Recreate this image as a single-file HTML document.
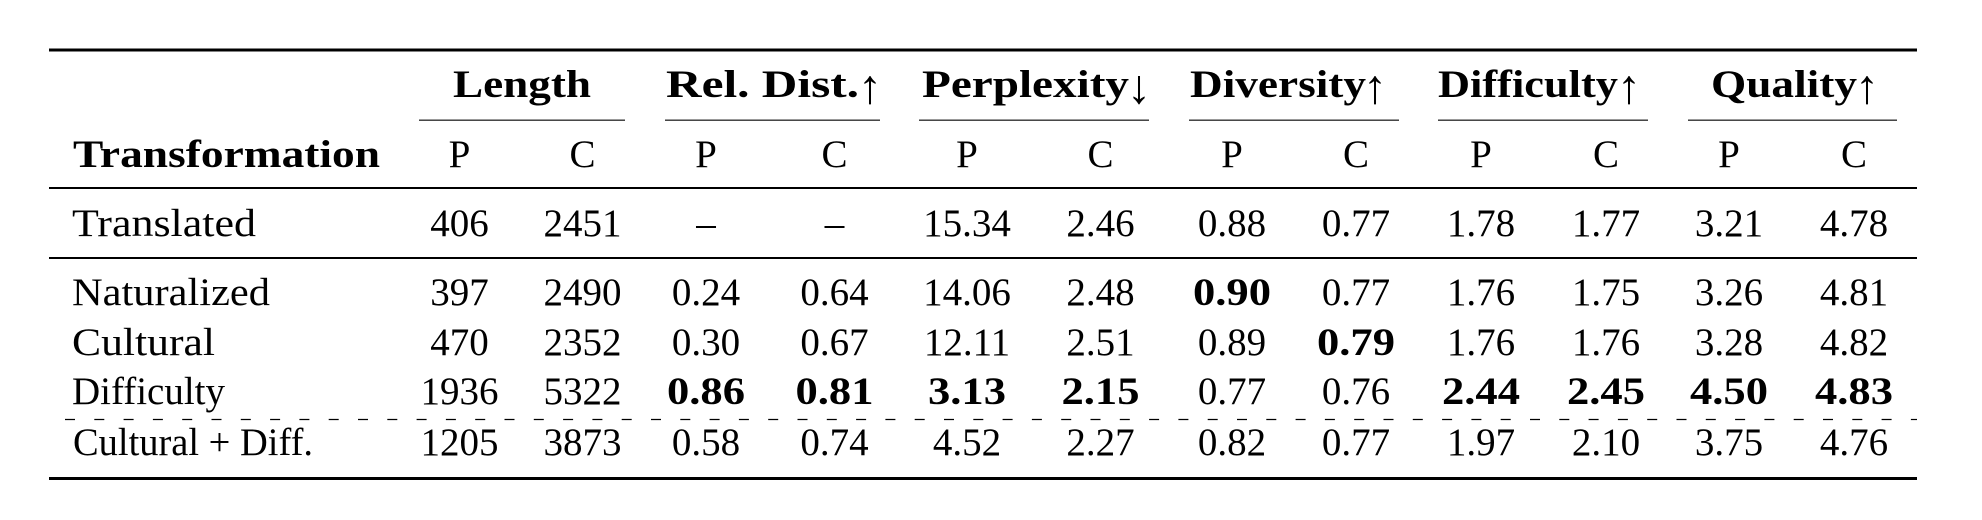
<!DOCTYPE html>
<html>
<head>
<meta charset="utf-8">
<style>
  html, body { margin: 0; padding: 0; background: #fff; }
  body { width: 1982px; height: 520px; overflow: hidden; }
  svg { display: block; }
  text { font-family: "Liberation Serif", serif; fill: #000; }
  .b { font-weight: bold; }
  .r { font-size: 39px; }
  .h { font-size: 39px; font-weight: bold; }
  .ar { font-size: 48px; font-weight: normal; }
</style>
</head>
<body>
<svg width="1982" height="520" viewBox="0 0 1982 520" xmlns="http://www.w3.org/2000/svg">
  <rect x="0" y="0" width="1982" height="520" fill="#fff"/>

  <!-- rules -->
  <rect x="49" y="48.5" width="1868" height="3" fill="#000"/>
  <rect x="49" y="187" width="1868" height="2" fill="#000"/>
  <rect x="49" y="257" width="1868" height="2" fill="#000"/>
  <rect x="49" y="477" width="1868" height="3" fill="#000"/>
  <line x1="49" y1="419.5" x2="1917" y2="419.5" stroke="#000" stroke-width="1.2" stroke-dasharray="10 19.3" stroke-dashoffset="13.3"/>

  <!-- cmidrules -->
  <rect x="419" y="119.5" width="206" height="1.4" fill="#333"/>
  <rect x="665" y="119.5" width="215" height="1.4" fill="#333"/>
  <rect x="919" y="119.5" width="230" height="1.4" fill="#333"/>
  <rect x="1189" y="119.5" width="210" height="1.4" fill="#333"/>
  <rect x="1438" y="119.5" width="210" height="1.4" fill="#333"/>
  <rect x="1688" y="119.5" width="209" height="1.4" fill="#333"/>

  <!-- group headers -->
  <text class="h" x="453" y="97" textLength="138" lengthAdjust="spacingAndGlyphs">Length</text>
  <text class="h" x="666" y="97" textLength="193" lengthAdjust="spacingAndGlyphs">Rel. Dist.</text>
  <text class="ar" x="870" y="103" text-anchor="middle">↑</text>
  <text class="h" x="922" y="97" textLength="207" lengthAdjust="spacingAndGlyphs">Perplexity</text>
  <text class="ar" x="1139" y="103" text-anchor="middle">↓</text>
  <text class="h" x="1190" y="97" textLength="176" lengthAdjust="spacingAndGlyphs">Diversity</text>
  <text class="ar" x="1375" y="103" text-anchor="middle">↑</text>
  <text class="h" x="1438" y="97" textLength="180" lengthAdjust="spacingAndGlyphs">Difficulty</text>
  <text class="ar" x="1629" y="103" text-anchor="middle">↑</text>
  <text class="h" x="1711" y="97" textLength="146" lengthAdjust="spacingAndGlyphs">Quality</text>
  <text class="ar" x="1867" y="103" text-anchor="middle">↑</text>

  <!-- sub headers -->
  <text class="h" x="73" y="167" textLength="307" lengthAdjust="spacingAndGlyphs">Transformation</text>
  <g class="r" text-anchor="middle">
    <text class="r" x="459.5" y="167">P</text>
    <text class="r" x="582.5" y="167">C</text>
    <text class="r" x="706" y="167">P</text>
    <text class="r" x="834.5" y="167">C</text>
    <text class="r" x="967" y="167">P</text>
    <text class="r" x="1100.5" y="167">C</text>
    <text class="r" x="1232" y="167">P</text>
    <text class="r" x="1356" y="167">C</text>
    <text class="r" x="1481" y="167">P</text>
    <text class="r" x="1606" y="167">C</text>
    <text class="r" x="1729" y="167">P</text>
    <text class="r" x="1854" y="167">C</text>
  </g>

  <!-- Translated -->
  <text class="r" x="72" y="236" textLength="184" lengthAdjust="spacingAndGlyphs">Translated</text>
  <g text-anchor="middle">
    <text class="r" x="459.5" y="236">406</text>
    <text class="r" x="582.5" y="236">2451</text>
    <text class="r" x="706" y="236">–</text>
    <text class="r" x="834.5" y="236">–</text>
    <text class="r" x="967" y="236">15.34</text>
    <text class="r" x="1100.5" y="236">2.46</text>
    <text class="r" x="1232" y="236">0.88</text>
    <text class="r" x="1356" y="236">0.77</text>
    <text class="r" x="1481" y="236">1.78</text>
    <text class="r" x="1606" y="236">1.77</text>
    <text class="r" x="1729" y="236">3.21</text>
    <text class="r" x="1854" y="236">4.78</text>
  </g>

  <!-- Naturalized -->
  <text class="r" x="72" y="305" textLength="198" lengthAdjust="spacingAndGlyphs">Naturalized</text>
  <g text-anchor="middle">
    <text class="r" x="459.5" y="305">397</text>
    <text class="r" x="582.5" y="305">2490</text>
    <text class="r" x="706" y="305">0.24</text>
    <text class="r" x="834.5" y="305">0.64</text>
    <text class="r" x="967" y="305">14.06</text>
    <text class="r" x="1100.5" y="305">2.48</text>
    <text class="h" x="1193" y="305" text-anchor="start" textLength="78" lengthAdjust="spacingAndGlyphs">0.90</text>
    <text class="r" x="1356" y="305">0.77</text>
    <text class="r" x="1481" y="305">1.76</text>
    <text class="r" x="1606" y="305">1.75</text>
    <text class="r" x="1729" y="305">3.26</text>
    <text class="r" x="1854" y="305">4.81</text>
  </g>

  <!-- Cultural -->
  <text class="r" x="72" y="355" textLength="143" lengthAdjust="spacingAndGlyphs">Cultural</text>
  <g text-anchor="middle">
    <text class="r" x="459.5" y="355">470</text>
    <text class="r" x="582.5" y="355">2352</text>
    <text class="r" x="706" y="355">0.30</text>
    <text class="r" x="834.5" y="355">0.67</text>
    <text class="r" x="967" y="355">12.11</text>
    <text class="r" x="1100.5" y="355">2.51</text>
    <text class="r" x="1232" y="355">0.89</text>
    <text class="h" x="1317" y="355" text-anchor="start" textLength="78" lengthAdjust="spacingAndGlyphs">0.79</text>
    <text class="r" x="1481" y="355">1.76</text>
    <text class="r" x="1606" y="355">1.76</text>
    <text class="r" x="1729" y="355">3.28</text>
    <text class="r" x="1854" y="355">4.82</text>
  </g>

  <!-- Difficulty -->
  <text class="r" x="72" y="404" textLength="153" lengthAdjust="spacingAndGlyphs">Difficulty</text>
  <g text-anchor="middle">
    <text class="r" x="459.5" y="404">1936</text>
    <text class="r" x="582.5" y="404">5322</text>
    <text class="h" x="667" y="404" text-anchor="start" textLength="78" lengthAdjust="spacingAndGlyphs">0.86</text>
    <text class="h" x="795.5" y="404" text-anchor="start" textLength="78" lengthAdjust="spacingAndGlyphs">0.81</text>
    <text class="h" x="928" y="404" text-anchor="start" textLength="78" lengthAdjust="spacingAndGlyphs">3.13</text>
    <text class="h" x="1061.5" y="404" text-anchor="start" textLength="78" lengthAdjust="spacingAndGlyphs">2.15</text>
    <text class="r" x="1232" y="404">0.77</text>
    <text class="r" x="1356" y="404">0.76</text>
    <text class="h" x="1442" y="404" text-anchor="start" textLength="78" lengthAdjust="spacingAndGlyphs">2.44</text>
    <text class="h" x="1567" y="404" text-anchor="start" textLength="78" lengthAdjust="spacingAndGlyphs">2.45</text>
    <text class="h" x="1690" y="404" text-anchor="start" textLength="78" lengthAdjust="spacingAndGlyphs">4.50</text>
    <text class="h" x="1815" y="404" text-anchor="start" textLength="78" lengthAdjust="spacingAndGlyphs">4.83</text>
  </g>

  <!-- Cultural + Diff. -->
  <text class="r" x="73" y="455" textLength="240" lengthAdjust="spacingAndGlyphs">Cultural + Diff.</text>
  <g text-anchor="middle">
    <text class="r" x="459.5" y="455">1205</text>
    <text class="r" x="582.5" y="455">3873</text>
    <text class="r" x="706" y="455">0.58</text>
    <text class="r" x="834.5" y="455">0.74</text>
    <text class="r" x="967" y="455">4.52</text>
    <text class="r" x="1100.5" y="455">2.27</text>
    <text class="r" x="1232" y="455">0.82</text>
    <text class="r" x="1356" y="455">0.77</text>
    <text class="r" x="1481" y="455">1.97</text>
    <text class="r" x="1606" y="455">2.10</text>
    <text class="r" x="1729" y="455">3.75</text>
    <text class="r" x="1854" y="455">4.76</text>
  </g>
</svg>
</body>
</html>
